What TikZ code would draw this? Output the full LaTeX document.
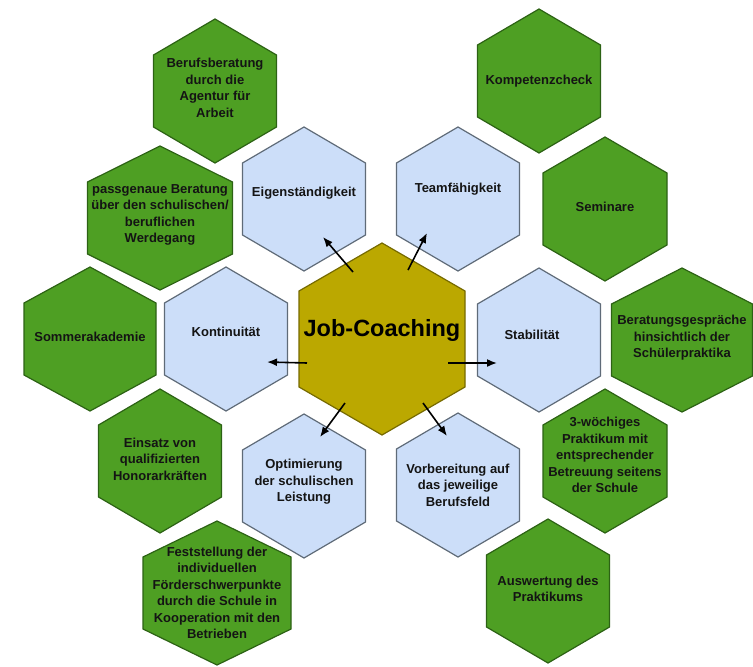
\documentclass[tikz,border=0pt]{standalone}
\usepackage{fontspec}
\setmainfont{Liberation Sans}
\usetikzlibrary{calc,arrows.meta}
\tikzset{>=latex}

\definecolor{hexgreen}{RGB}{78,159,35}
\definecolor{hexgreenline}{RGB}{44,98,20}
\definecolor{hexblue}{RGB}{204,222,249}
\definecolor{hexblueline}{RGB}{95,107,120}
\definecolor{hexolive}{RGB}{187,168,0}
\definecolor{hexoliveline}{RGB}{118,106,0}

\tikzset{
  greenhex/.style={fill=hexgreen, draw=hexgreenline, line width=1.2pt},
  bluehex/.style={fill=hexblue, draw=hexblueline, line width=1.2pt},
  olivehex/.style={fill=hexolive, draw=hexoliveline, line width=1.2pt},
  hextext/.style={font=\fontsize{13}{16.5}\selectfont\bfseries, align=center, text=black!92, inner sep=0pt},
  bigtext/.style={font=\fontsize{23.5}{28}\selectfont\bfseries, text=black, inner sep=0pt},
  spoke/.style={->, line width=1.6pt, >={Latex[length=10pt,width=8pt]}}
}

% pointy hexagon: name, x, y, half width, half height, fill style, text options, text
\newcommand{\hexagon}[8]{%
  \filldraw[#6] (#2,#3-#5) -- (#2+#4,#3-#5/2) -- (#2+#4,#3+#5/2) -- (#2,#3+#5)
    -- (#2-#4,#3+#5/2) -- (#2-#4,#3-#5/2) -- cycle;
  \node[hextext,#7] (#1) at (#2,#3) {#8};
}

\begin{document}
\begin{tikzpicture}[x=1pt,y=-1pt]
\useasboundingbox (0,0) rectangle (753,667);

% outer ring
\hexagon{beruf}{215}{91}{61.5}{72}{greenhex}{yshift=3}{Berufsberatung\\durch die\\Agentur für\\Arbeit}
\hexagon{pass}{160}{218}{72.5}{72}{greenhex}{yshift=3}{passgenaue Beratung\\über den schulischen/\\beruflichen\\Werdegang}
\hexagon{somm}{90}{339}{66}{72}{greenhex}{yshift=2}{Sommerakademie}
\hexagon{eins}{160}{461}{61.5}{72}{greenhex}{yshift=2}{Einsatz von\\qualifizierten\\Honorarkräften}
\hexagon{fest}{217}{593}{74}{72}{greenhex}{}{Feststellung der\\individuellen\\Förderschwerpunkte\\durch die Schule in\\Kooperation mit den\\Betrieben}
\hexagon{komp}{539}{81}{61.5}{72}{greenhex}{}{Kompetenzcheck}
\hexagon{sem}{605}{209}{62}{72}{greenhex}{yshift=2}{Seminare}
\hexagon{gespr}{682}{340}{70.5}{72}{greenhex}{yshift=2}{Beratungsgespräche\\hinsichtlich der\\Schülerpraktika}
\hexagon{prakt}{605}{461}{62}{72}{greenhex}{yshift=6}{3-wöchiges\\Praktikum mit\\entsprechender\\Betreuung seitens\\der Schule}
\hexagon{ausw}{548}{591}{61.5}{72}{greenhex}{yshift=2}{Auswertung des\\Praktikums}

% inner ring
\hexagon{eig}{304}{199}{61.5}{72}{bluehex}{yshift=6}{Eigenständigkeit}
\hexagon{team}{458}{199}{61.5}{72}{bluehex}{yshift=10}{Teamfähigkeit}
\hexagon{stab}{539}{340}{61.5}{72}{bluehex}{yshift=5,xshift=-7}{Stabilität}
\hexagon{kont}{226}{339}{61.5}{72}{bluehex}{yshift=7}{Kontinuität}
\hexagon{opt}{304}{486}{61.5}{72}{bluehex}{yshift=4}{Optimierung\\der schulischen\\Leistung}
\hexagon{vor}{458}{485}{61.5}{72}{bluehex}{}{Vorbereitung auf\\das jeweilige\\Berufsfeld}

% centre
\hexagon{jc}{382}{339}{83}{96}{olivehex}{bigtext,yshift=9}{Job-Coaching}

\draw[spoke] ([shift={(-29,-58)}]jc.center) -- ([shift={(19,44)}]eig.center);
\draw[spoke] ([shift={(26,-60)}]jc.center) -- ([shift={(-31,44)}]team.center);
\draw[spoke] ([shift={(66,33)}]jc.center) -- ([shift={(-35,28)}]stab.center);
\draw[spoke] ([shift={(-75,33)}]jc.center) -- ([shift={(41,30)}]kont.center);
\draw[spoke] ([shift={(-37,73)}]jc.center) -- ([shift={(16,-45)}]opt.center);
\draw[spoke] ([shift={(41,73)}]jc.center) -- ([shift={(-11,-49)}]vor.center);
\end{tikzpicture}
\end{document}
